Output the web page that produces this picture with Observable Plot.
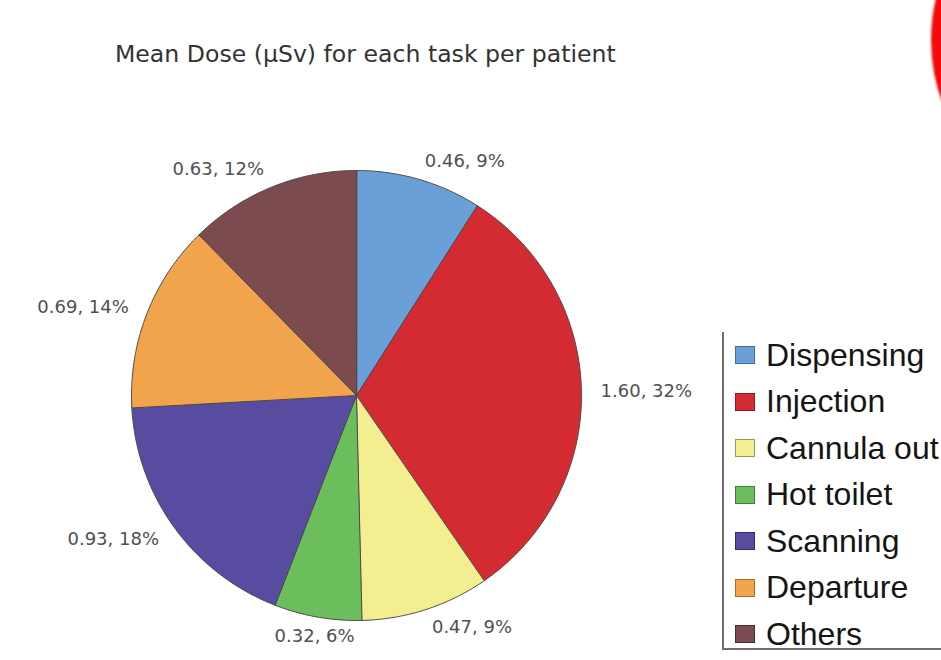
<!DOCTYPE html>
<html>
<head>
<meta charset="utf-8">
<script src="https://cdn.jsdelivr.net/npm/d3@7"></script>
<script src="https://cdn.jsdelivr.net/npm/@observablehq/plot@0.6"></script>
<style>
  body { margin: 0; background: #fff; }
  #wrap { position: relative; width: 941px; height: 660px; overflow: hidden; background: #fff; }
  #wrap svg { position: absolute; left: 0; top: 0; }
  #title {
    position: absolute; left: 115px; top: 42px; white-space: nowrap;
    font-family: "DejaVu Sans", sans-serif; font-size: 23.6px; line-height: 24px; color: #333;
  }
  #legend {
    position: absolute; left: 722px; top: 332px; width: 240px; height: 316px;
    border-left: 2px solid #6e6e6e; border-bottom: 2px solid #6e6e6e; background: #fff;
  }
  .row { height: 46.5px; display: flex; align-items: center; white-space: nowrap; }
  .sw { width: 20px; height: 18px; margin-left: 11px; box-sizing: border-box; border: 1px solid #4a4a4a; }
  .lab { margin-left: 11px; font-family: "Liberation Sans", Arial, sans-serif; font-size: 32px; color: #151515; }
  #ring {
    position: absolute; left: 931px; top: -140px; width: 360px; height: 360px; box-sizing: border-box;
    border-radius: 50%; border: 34px solid #f30a0a; filter: blur(1px);
  }
</style>
</head>
<body>
<div id="wrap"></div>
<script>
// Mean dose per task (µSv) and its share of the total, in chart order
const tasks = ["Dispensing", "Injection", "Cannula out", "Hot toilet", "Scanning", "Departure", "Others"];
const doses = [0.46, 1.60, 0.47, 0.32, 0.93, 0.69, 0.63];
const shares = [9, 32, 9, 6, 18, 14, 12];
const colors = ["#6a9fd8", "#d42a31", "#f3ee8f", "#6cbd5c", "#584ca0", "#f2a44c", "#7b4b50"];
const swatchBorders = ["#3f6f9f", "#8f1a1f", "#9a9660", "#3f7f35", "#332a70", "#a8702f", "#4c2c30"];
const title = "Mean Dose (µSv) for each task per patient";

const rows = tasks.map((task, i) => ({task, dose: doses[i], share: shares[i]}));

// Slice angles, clockwise from 12 o'clock, in data order
const arcs = d3.pie().sort(null).value(d => d.dose)(rows);

// Each slice as a closed polygon on the unit circle
const step = Math.PI / 360;
const slicePoints = arcs.flatMap(a => {
  const pts = [{task: a.data.task, x: 0, y: 0}];
  const n = Math.max(2, Math.ceil((a.endAngle - a.startAngle) / step));
  for (let k = 0; k <= n; ++k) {
    const t = a.startAngle + (a.endAngle - a.startAngle) * k / n;
    pts.push({task: a.data.task, x: Math.sin(t), y: Math.cos(t)});
  }
  return pts;
});

// Value labels just outside the rim at each slice's mid-angle
const labelR = 1.085;
const labels = arcs.map(a => {
  const m = (a.startAngle + a.endAngle) / 2;
  return {
    text: `${a.data.dose.toFixed(2)}, ${a.data.share}%`,
    x: labelR * Math.sin(m), y: labelR * Math.cos(m), s: Math.sin(m)
  };
});

const labelStyle = {
  x: "x", y: "y", text: "text", fill: "#505050", fontSize: 18,
  fontFamily: "DejaVu Sans, sans-serif", lineAnchor: "middle"
};

const chart = Plot.plot({
  width: 941,
  height: 660,
  marginLeft: 131,
  marginRight: 360,
  marginTop: 170,
  marginBottom: 40,
  x: {domain: [-1, 1], axis: null},
  y: {domain: [-1, 1], axis: null},
  color: {type: "ordinal", domain: tasks, range: colors},
  style: {background: "transparent", overflow: "visible"},
  marks: [
    Plot.line(slicePoints, {
      x: "x", y: "y", z: "task", fill: "task",
      stroke: "#4a4a4a", strokeWidth: 1, strokeLinejoin: "round", curve: "linear-closed"
    }),
    Plot.text(labels.filter(d => d.s >= 0.25), {...labelStyle, textAnchor: "start"}),
    Plot.text(labels.filter(d => d.s <= -0.25), {...labelStyle, textAnchor: "end"}),
    Plot.text(labels.filter(d => Math.abs(d.s) < 0.25), {...labelStyle, textAnchor: "middle"})
  ]
});

const wrap = document.getElementById("wrap");
wrap.appendChild(chart);

const t = document.createElement("div");
t.id = "title";
t.textContent = title;
wrap.appendChild(t);

const legend = document.createElement("div");
legend.id = "legend";
tasks.forEach((task, i) => {
  const row = document.createElement("div");
  row.className = "row";
  const sw = document.createElement("div");
  sw.className = "sw";
  sw.style.background = chart.scale("color").apply(task);
  sw.style.borderColor = swatchBorders[i];
  const lab = document.createElement("span");
  lab.className = "lab";
  lab.textContent = task;
  row.appendChild(sw);
  row.appendChild(lab);
  legend.appendChild(row);
});
wrap.appendChild(legend);

const ring = document.createElement("div");
ring.id = "ring";
wrap.appendChild(ring);
</script>
</body>
</html>
